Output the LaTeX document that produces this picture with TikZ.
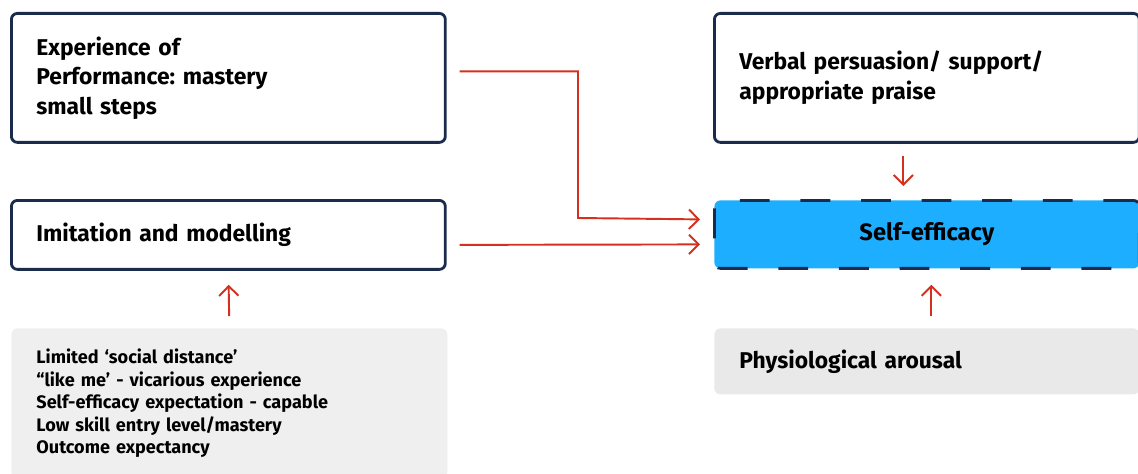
\documentclass[tikz,border=0pt]{standalone}
\usepackage{fontspec}
\setmainfont{Fira Sans}
\usetikzlibrary{arrows.meta}
\frenchspacing
\definecolor{navy}{HTML}{1A2B4C}
\definecolor{arrowred}{HTML}{D4301F}
\definecolor{skyfill}{HTML}{1EAEFF}
\definecolor{lightgrey}{HTML}{EFEFEF}
\definecolor{midgrey}{HTML}{E9E9E9}
\tikzset{
  box/.style={draw=navy, line width=1.6pt, rounded corners=0.12cm, fill=white,
    anchor=north west, inner xsep=0.5cm, inner ysep=0pt, align=left,
    font=\bfseries\fontsize{13}{16.8}\selectfont},
  softbox/.style={box, draw=none},
  selfbox/.style={box, fill=skyfill, dash pattern=on 17pt off 17.5pt, align=center,
    font=\bfseries\fontsize{13.5}{16.8}\selectfont},
  arr/.style={draw=arrowred, line width=1.1pt, -{Straight Barb[length=5.5pt,width=11pt]}}
}
\begin{document}
\begin{tikzpicture}[x=0.02cm, y=-0.02cm]
\useasboundingbox (0,0) rectangle (1138,473);
\node[box, text width=7.68cm, minimum height=2.58cm] (exp) at (10,12)
  {Experience of\\Performance: mastery\\small steps};
\node[box, text width=7.68cm, minimum height=1.38cm] (imit) at (10,199)
  {Imitation and modelling};
\node[softbox, fill=lightgrey, text width=7.72cm, minimum height=3cm,
  font=\bfseries\fontsize{10.3}{12.8}\selectfont] (list) at (10,327)
  {Limited ‘social distance’\\“like me’ - vicarious experience\\Self-efficacy expectation - capable\\Low skill entry level/mastery\\Outcome expectancy};
\node[box, text width=7.5cm, minimum height=2.58cm] (verbal) at (713,12)
  {Verbal persuasion/ support/\\appropriate praise};
\node[selfbox, text width=7.5cm, minimum height=1.36cm] (self) at (713,199)
  {Self-efficacy};
\node[softbox, fill=midgrey, text width=7.5cm, minimum height=1.32cm] (phys) at (713,327)
  {Physiological arousal};
% red connectors
\coordinate (bend) at (578,218);
\draw[arr, shorten <=0.26cm] ([yshift=0.13cm]exp.east) -| (bend) -- ([yshift=0.3cm,xshift=-0.26cm]self.west);
\draw[arr, shorten <=0.26cm, shorten >=0.26cm] ([yshift=-0.2cm]imit.east) -- ([yshift=-0.2cm]self.west);
\draw[arr, shorten <=0.24cm, shorten >=0.26cm] ([xshift=-0.47cm]verbal.south) -- ([xshift=-0.47cm]self.north);
\draw[arr, shorten <=0.22cm, shorten >=0.3cm] ([xshift=0.09cm]phys.north) -- ([xshift=0.09cm]self.south);
\draw[arr, shorten <=0.22cm, shorten >=0.28cm] (list.north) -- (imit.south);
\end{tikzpicture}
\end{document}
